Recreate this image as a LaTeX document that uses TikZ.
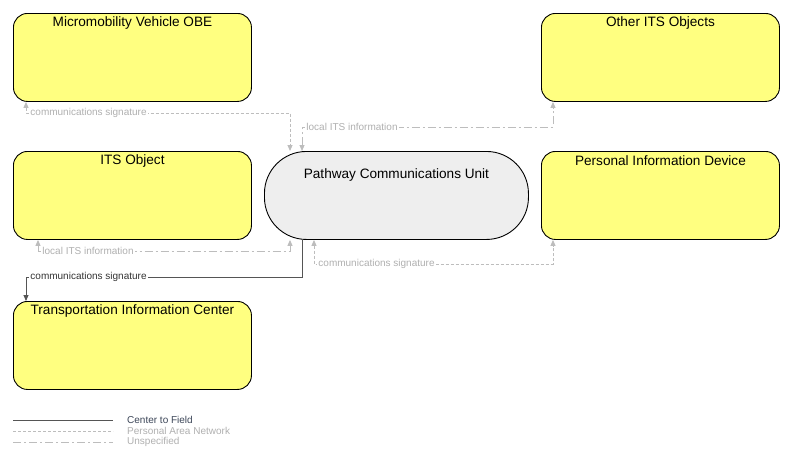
\documentclass[tikz,border=0pt]{standalone}
\usepackage{fontspec}
\setmainfont{Liberation Sans}
\usetikzlibrary{arrows.meta}
\definecolor{boxyellow}{HTML}{FFFF80}
\definecolor{pcugray}{HTML}{EEEEEE}
\definecolor{panline}{HTML}{BDBDBD}
\definecolor{cfline}{HTML}{555555}
\definecolor{lbllight}{HTML}{B0B0B0}
\definecolor{legdark}{HTML}{3C4658}
\tikzset{
  box/.style={draw=black, line width=0.9pt, fill=boxyellow, rounded corners=14pt,
    minimum width=238pt, minimum height=88pt, anchor=north west, inner sep=0pt},
  pcubox/.style={draw=black, line width=0.9pt, fill=pcugray, rounded corners=42pt,
    minimum width=264pt, minimum height=88pt, anchor=north west, inner sep=0pt},
  title/.style={font=\fontsize{13.6}{15}\selectfont, text=black, inner sep=0pt},
  lbl/.style={font=\fontsize{10}{11}\selectfont, fill=white, inner sep=1pt, anchor=west, pos=0.5, xshift=3pt},
  pan/.style={draw=panline, line width=0.9pt, dash pattern=on 3pt off 2pt,
    arrows={Triangle[length=6pt,width=5pt,fill=panline]-Triangle[length=6pt,width=5pt,fill=panline]}},
  uns/.style={draw=panline, line width=0.9pt, dash pattern=on 8pt off 3pt on 2pt off 3pt,
    arrows={Triangle[length=6pt,width=5pt,fill=panline]-Triangle[length=6pt,width=5pt,fill=panline]}},
  c2f/.style={draw=cfline, line width=0.9pt,
    arrows={Triangle[length=6pt,width=5pt,fill=cfline]-}},
  legtxt/.style={font=\fontsize{10}{11}\selectfont, anchor=west, inner sep=0pt},
}
\begin{document}
\begin{tikzpicture}[x=1pt,y=-1pt]
\useasboundingbox[fill=white] (0,0) rectangle (789,463);
% nodes
\node[box] (mmv) at (13,13) {};
\node[box] (oth) at (541,13) {};
\node[box] (its) at (13,151) {};
\node[box] (pid) at (541,151) {};
\node[pcubox] (pcu) at (264,151) {};
\node[box] (tic) at (13,301) {};
% titles
\node[title] (tmmv) at ([yshift=-9.5pt]mmv.north) {Micromobility Vehicle OBE};
\node[title] (toth) at ([yshift=-9.5pt]oth.north) {Other ITS Objects};
\node[title] (tits) at ([yshift=-9.5pt]its.north) {ITS Object};
\node[title] (tpid) at ([yshift=-9.5pt]pid.north) {Personal Information Device};
\node[title] (tpcu) at ([yshift=-24pt]pcu.north) {Pathway Communications Unit};
\node[title] (ttic) at ([yshift=-9.5pt]tic.north) {Transportation Information Center};
% connectors
\draw[pan] (mmv.south -| 26,0) |- node[lbl, text=lbllight] {communications signature} (290,113) -- (pcu.north -| 290,0);
\draw[uns] (pcu.north -| 302,0) |- node[lbl, text=lbllight] {local ITS information} (553,127) -- (oth.south -| 553,0);
\draw[uns] (its.south -| 38,0) |- node[lbl, text=lbllight] {local ITS information} (290,251) -- (pcu.south -| 290,0);
\draw[pan] (pcu.south -| 314,0) |- node[lbl, text=lbllight] {communications signature} (553,264) -- (pid.south -| 553,0);
\draw[c2f] (tic.north -| 26,0) |- node[lbl, text=black!80] {communications signature} (302,277) -- (pcu.south -| 302,0);
% legend
\coordinate (l1a) at (13,420); \coordinate (l1b) at (113,420);
\coordinate (l2a) at (13,431); \coordinate (l2b) at (113,431);
\coordinate (l3a) at (13,442); \coordinate (l3b) at (113,442);
\draw[draw=cfline, line width=0.9pt] (l1a) -- (l1b);
\draw[draw=panline, line width=0.9pt, dash pattern=on 3pt off 2pt] (l2a) -- (l2b);
\draw[draw=panline, line width=0.9pt, dash pattern=on 8pt off 3pt on 2pt off 3pt] (l3a) -- (l3b);
\node[legtxt, text=legdark] (lg1) at (127,420) {Center to Field};
\node[legtxt, text=lbllight] (lg2) at (127,431) {Personal Area Network};
\node[legtxt, text=lbllight] (lg3) at (127,442) {Unspecified};
\end{tikzpicture}
\end{document}
